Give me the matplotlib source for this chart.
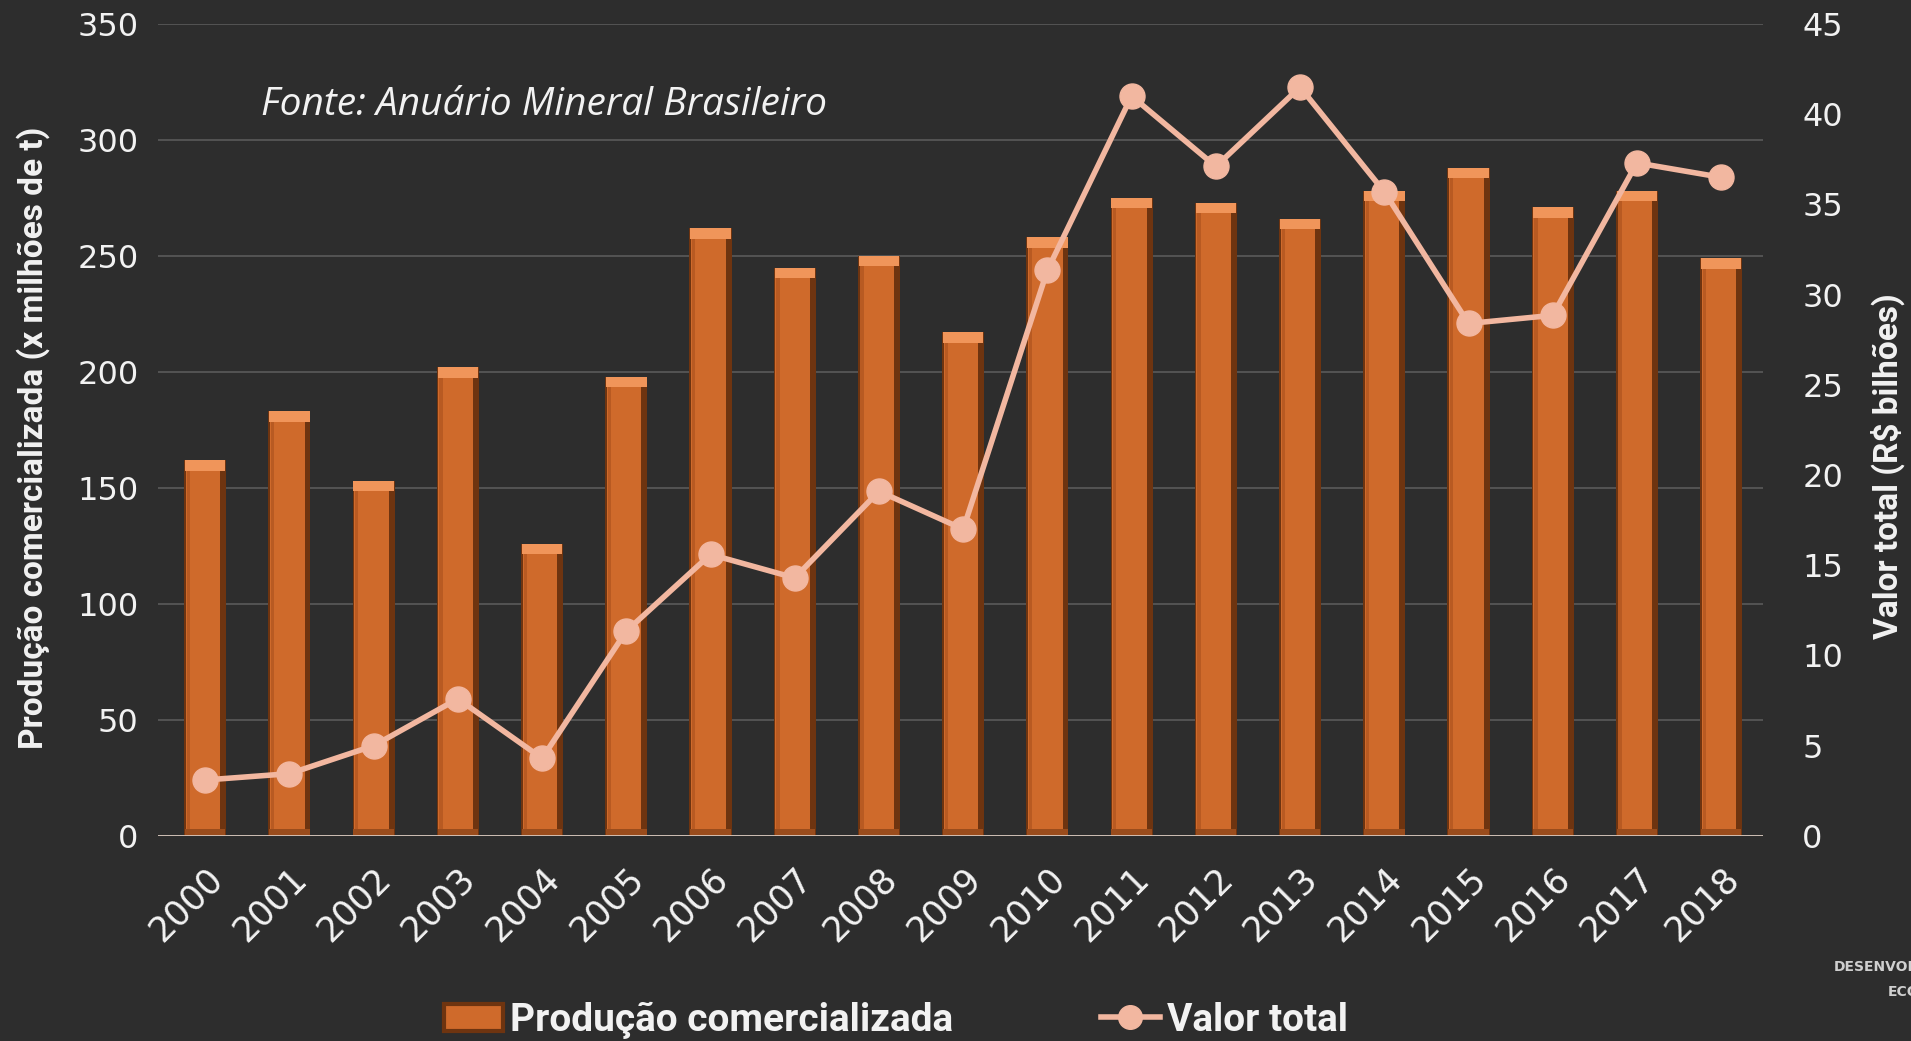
import matplotlib

matplotlib.use("Agg")
import matplotlib.pyplot as plt
from matplotlib.lines import Line2D
from matplotlib.patches import Rectangle
import numpy as np

years = [str(y) for y in range(2000, 2019)]
producao = [162, 183, 153, 202, 126, 198, 262, 245, 250, 217,
            258, 275, 273, 266, 278, 288, 271, 278, 249]
valor = [3.1, 3.45, 5.0, 7.6, 4.3, 11.35, 15.6, 14.3, 19.1, 17.0,
         31.35, 41.0, 37.1, 41.5, 35.7, 28.4, 28.85, 37.3, 36.5]

BG = "#2d2d2d"
BAR = "#cf6a2b"
BAR_DARK = "#6e3410"
BAR_LIGHT = "#f0955a"
LINE = "#f2b7a0"
TXT = "#f2f2f2"
NARROW = ["Roboto", "DejaVu Sans"]

fig = plt.figure(figsize=(19.11, 10.41), dpi=100, facecolor=BG)
ax = fig.add_axes([0.0827, 0.197, 0.84, 0.78])
ax.set_facecolor(BG)
x = np.arange(len(years))
w = 0.5

# bars with a rough bevel look: dark outer, orange core, light top cap
ax.bar(x, producao, width=w, color=BAR_DARK, zorder=2)
ax.bar(x - 0.025, producao, width=w - 0.09, color=BAR, zorder=3)
ax.bar(x - 0.2, producao, width=0.04, color="#b85a22", zorder=3)
ax.bar(x, [4.5] * len(x), bottom=np.array(producao) - 4.5, width=w - 0.02,
       color=BAR_LIGHT, zorder=4)
ax.bar(x, [3] * len(x), width=w - 0.02, color="#9a4c1c", zorder=4)

ax.set_xlim(-0.56, 18.5)
ax.set_ylim(0, 350)
ax.set_yticks(range(0, 351, 50))
ax.grid(axis="y", color="#5a5a5a", linewidth=1.2, zorder=0)
ax.axhline(0, color="#d9c8bd", linewidth=2, zorder=5)
for s in ax.spines.values():
    s.set_visible(False)
ax.tick_params(axis="y", length=0, colors=TXT, labelsize=23, pad=14)
ax.tick_params(axis="x", length=0, colors=TXT, labelsize=25, pad=18)
ax.set_xticks(x)
ax.set_xticklabels(years, rotation=45, ha="right", rotation_mode="anchor")
ax.set_ylabel("Produção comercializada (x milhões de t)", color=TXT, fontsize=24,
              fontweight="bold", family=NARROW, labelpad=20)
ax.yaxis.label.set_y(0.49)

ax2 = ax.twinx()
ax2.set_ylim(0, 45)
ax2.set_yticks(range(0, 46, 5))
for s in ax2.spines.values():
    s.set_visible(False)
ax2.tick_params(axis="y", length=0, colors=TXT, labelsize=23, pad=28)
ax2.plot(x, valor, color=LINE, linewidth=4, marker="o", markersize=18, zorder=6)
ax2.set_ylabel("Valor total (R$ bilhões)", color=TXT, fontsize=24,
               fontweight="bold", family=NARROW, labelpad=20)
ax2.yaxis.label.set_y(0.455)

ax.text(0.064, 0.9, "Fonte: Anuário Mineral Brasileiro", transform=ax.transAxes,
        color=TXT, fontsize=28, style="italic", family=["Open Sans", "DejaVu Sans"],
        va="center")

handles = [Rectangle((0, 0), 1, 1, facecolor=BAR, edgecolor=BAR_DARK, linewidth=3),
           Line2D([], [], color=LINE, linewidth=4, marker="o", markersize=17)]
leg = fig.legend(handles, ["Produção comercializada", "Valor total"], loc="center",
                 bbox_to_anchor=(0.469, 0.02), ncol=2, frameon=False, columnspacing=3.8,
                 handlelength=1.5, handletextpad=0.2,
                 prop={"family": NARROW, "weight": "bold", "size": 28})
for t in leg.get_texts():
    t.set_color(TXT)

fig.text(0.9597, 0.067, "DESENVOLVIMENTO", color="#cfcfcf", fontsize=10, fontweight="bold")
fig.text(0.9880, 0.043, "ECONÔMICO", color="#cfcfcf", fontsize=10, fontweight="bold")

fig.savefig("out.png", dpi=100, facecolor=BG)
